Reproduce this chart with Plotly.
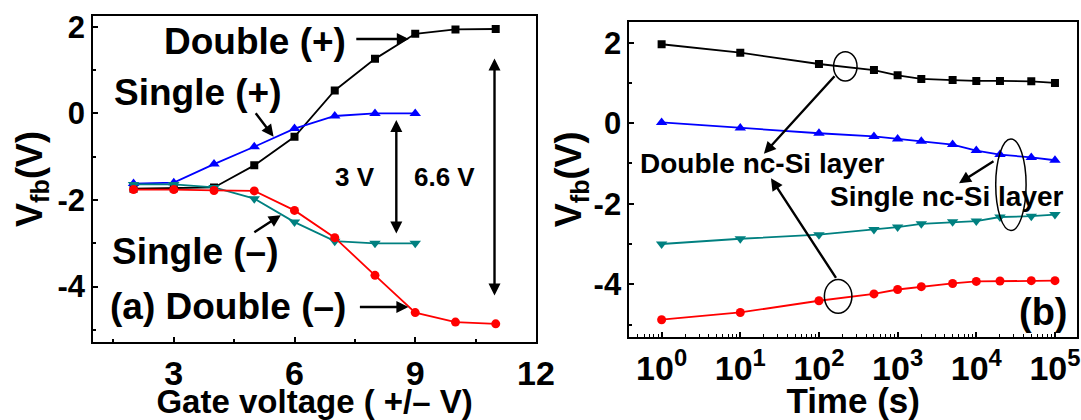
import plotly.graph_objects as go
from plotly.subplots import make_subplots

# ---------------- data: panel (a) ----------------
gate_v_double = [2, 3, 4, 5, 6, 7, 8, 9, 10, 11]
double_plus = [-1.74, -1.73, -1.71, -1.20, -0.54, 0.53, 1.26, 1.84, 1.94, 1.95]
double_minus = [-1.76, -1.76, -1.78, -1.79, -2.24, -2.87, -3.74, -4.60, -4.82, -4.86]
gate_v_single = [2, 3, 4, 5, 6, 7, 8, 9]
single_plus = [-1.62, -1.60, -1.17, -0.77, -0.35, -0.06, 0.0, 0.0]
single_minus = [-1.64, -1.64, -1.71, -1.97, -2.51, -2.95, -3.0, -3.0]

# ---------------- data: panel (b) ----------------
time_s = [1, 10, 100, 500, 1000, 2000, 5000, 1e4, 2e4, 5e4, 1e5]
ret_double_plus = [1.96, 1.75, 1.47, 1.32, 1.19, 1.10, 1.07, 1.05, 1.05, 1.04, 1.00]
ret_single_plus = [0.02, -0.12, -0.25, -0.33, -0.39, -0.45, -0.53, -0.68, -0.78, -0.85, -0.92]
ret_single_minus = [-3.0, -2.87, -2.77, -2.64, -2.58, -2.50, -2.45, -2.43, -2.33, -2.31, -2.27]
ret_double_minus = [-4.88, -4.70, -4.41, -4.24, -4.13, -4.06, -3.98, -3.93, -3.92, -3.91, -3.91]

# ---------------- ticks ----------------
a_xticks = [3, 6, 9, 12]
a_xtick_text = ["3", "6", "9", "12"]
y_ticks = [-4, -2, 0, 2]
y_tick_text = ["-4", "-2", "0", "2"]
b_xticks = [1, 10, 100, 1000, 10000, 100000]
b_xtick_text = ["10<sup>0</sup>", "10<sup>1</sup>", "10<sup>2</sup>",
                "10<sup>3</sup>", "10<sup>4</sup>", "10<sup>5</sup>"]

FONT = "Liberation Sans, Arial, sans-serif"
BLACK = "#000000"
BLUE = "#0000ff"
TEAL = "#008080"
RED = "#ff0000"

fig = make_subplots(rows=1, cols=2)

def add(x, y, color, symbol, size, col):
    fig.add_trace(go.Scatter(
        x=x, y=y, mode="lines+markers",
        line=dict(color=color, width=1.8),
        marker=dict(color=color, symbol=symbol, size=size),
        showlegend=False), row=1, col=col)

add(gate_v_double, double_plus, BLACK, "square", 8, 1)
add(gate_v_single, single_plus, BLUE, "triangle-up", 10, 1)
add(gate_v_single, single_minus, TEAL, "triangle-down", 10, 1)
add(gate_v_double, double_minus, RED, "circle", 9, 1)

add(time_s, ret_double_plus, BLACK, "square", 8, 2)
add(time_s, ret_single_plus, BLUE, "triangle-up", 10, 2)
add(time_s, ret_single_minus, TEAL, "triangle-down", 10, 2)
add(time_s, ret_double_minus, RED, "circle", 9, 2)

tickfont = dict(family=FONT, size=31, color="black", weight="bold")
xtickfont = dict(family=FONT, size=34, color="black", weight="bold")
ytitlefont = dict(family=FONT, size=36, color="black", weight="bold")
axis_common = dict(showline=True, linewidth=2, linecolor="black", mirror=True,
                   showgrid=False, zeroline=False, ticks="inside", ticklen=5,
                   tickwidth=1.5, tickcolor="black", automargin=False,
                   ticklabeloverflow="allow")

fig.update_layout(
    width=1081, height=420,
    margin=dict(l=0, r=0, t=0, b=0),
    paper_bgcolor="white", plot_bgcolor="white",
    font=dict(family=FONT, color="black", weight="bold"),
    xaxis=dict(domain=[0.0863, 0.4958], range=[1.0, 12.0],
               tickvals=a_xticks, ticktext=a_xtick_text, tickfont=xtickfont,
               minor=dict(tickvals=[1.5, 4.5, 7.5, 10.5], ticks="inside", ticklen=3,
                          tickcolor="black", tickwidth=1.5),
               title=dict(text="Gate voltage ( +/– V)",
                          font=dict(family=FONT, size=33, color="black", weight="bold"),
                          standoff=0),
               **axis_common),
    yaxis=dict(domain=[0.1857, 0.9619], range=[-5.28, 2.25],
               tickvals=y_ticks, ticktext=y_tick_text, tickfont=tickfont,
               minor=dict(tickvals=[-5, -3, -1, 1], ticks="inside", ticklen=3,
                          tickcolor="black", tickwidth=1.5),
               title=dict(text="V<sub>fb</sub>(V)", font=ytitlefont, standoff=4),
               **axis_common),
    xaxis2=dict(domain=[0.5822, 0.9963], type="log", range=[-0.41, 5.28],
                tickvals=b_xticks, ticktext=b_xtick_text, tickfont=xtickfont,
                minor=dict(dtick="D1", ticks="inside", ticklen=3,
                           tickcolor="black", tickwidth=1.2),
                title=dict(text="Time (s)",
                           font=dict(family=FONT, size=35, color="black", weight="bold"),
                           standoff=0),
                **axis_common),
    yaxis2=dict(domain=[0.1976, 0.9483], range=[-5.31, 2.52],
                tickvals=y_ticks, ticktext=y_tick_text, tickfont=tickfont,
                minor=dict(tickvals=[-5, -3, -1, 1], ticks="inside", ticklen=3,
                           tickcolor="black", tickwidth=1.5),
                title=dict(text="V<sub>fb</sub>(V)", font=ytitlefont, standoff=0),
                **axis_common),
)

LBL = dict(family=FONT, size=37, color="black", weight="bold")
SMALL = dict(family=FONT, size=26, color="black", weight="bold")
ARW = dict(showarrow=True, arrowhead=2, arrowsize=1, arrowwidth=2.4, arrowcolor="black")

ann = []
# panel (a) labels
ann.append(dict(xref="x", yref="y", x=5.03, y=1.65, text="Double (+)", showarrow=False, font=LBL))
ann.append(dict(xref="x", yref="y", x=3.60, y=0.49, text="Single (+)", showarrow=False, font=LBL))
ann.append(dict(xref="x", yref="y", x=3.53, y=-3.20, text="Single (–)", showarrow=False, font=LBL))
ann.append(dict(xref="x", yref="y", x=4.34, y=-4.45, text="(a) Double (–)", showarrow=False, font=LBL))
ann.append(dict(xref="x", yref="y", x=7.50, y=-1.46, text="3 V", showarrow=False, font=SMALL))
ann.append(dict(xref="x", yref="y", x=9.73, y=-1.46, text="6.6 V", showarrow=False, font=SMALL))
# arrows panel (a)
ann.append(dict(xref="x", yref="y", x=8.84, y=1.72, ax=-54, ay=0, text="", **ARW))
ann.append(dict(xref="x", yref="y", x=5.48, y=-0.54, ax=-19, ay=-25, text="", **ARW))
ann.append(dict(xref="x", yref="y", x=5.66, y=-2.35, ax=-28, ay=18, text="", **ARW))
ann.append(dict(xref="x", yref="y", x=8.83, y=-4.47, ax=-50, ay=0, text="", **ARW))
ann.append(dict(xref="x", yref="y", x=8.53, y=-0.15, axref="x", ayref="y", ax=8.53, ay=-2.81,
                text="", arrowside="end+start", **ARW))
ann.append(dict(xref="x", yref="y", x=10.97, y=1.27, axref="x", ayref="y", ax=10.97, ay=-4.24,
                text="", arrowside="end+start", **ARW))

# panel (b) labels (log axis: annotation x positions given in log10 units)
NCFONT = dict(family=FONT, size=28, color="black", weight="bold")
ann.append(dict(xref="x2", yref="y2", x=1.27, y=-1.01, text="Double nc-Si layer",
                showarrow=False, font=NCFONT))
ann.append(dict(xref="x2", yref="y2", x=3.63, y=-1.82, text="Single nc-Si layer",
                showarrow=False, font=NCFONT))
ann.append(dict(xref="x2", yref="y2", x=4.85, y=-4.68, text="(b)", showarrow=False,
                font=dict(family=FONT, size=38, color="black", weight="bold")))
ann.append(dict(xref="x2", yref="y2", x=1.30, y=-0.76, ax=72, ay=-79, text="", **ARW))
ann.append(dict(xref="x2", yref="y2", x=1.39, y=-1.37, ax=66, ay=101, text="", **ARW))
ann.append(dict(xref="x2", yref="y2", x=3.78, y=-1.49, ax=36, ay=-23, text="", **ARW))
fig.update_layout(annotations=ann)

# ellipses in panel (b): centre (log10 x, y) and half-sizes (decades, V)
ellipses = [(2.335, 1.41, 0.149, 0.365), (2.244, -4.30, 0.175, 0.42), (4.44, -1.53, 0.193, 1.135)]
for cx, cy, rx, ry in ellipses:
    fig.add_shape(type="circle", xref="x2", yref="y2",
                  x0=10 ** (cx - rx), x1=10 ** (cx + rx),
                  y0=cy - ry, y1=cy + ry, line=dict(color="black", width=1.5))

fig.write_html("out.html", config={"displayModeBar": False},
               post_script="document.body.style.margin='0px';")
